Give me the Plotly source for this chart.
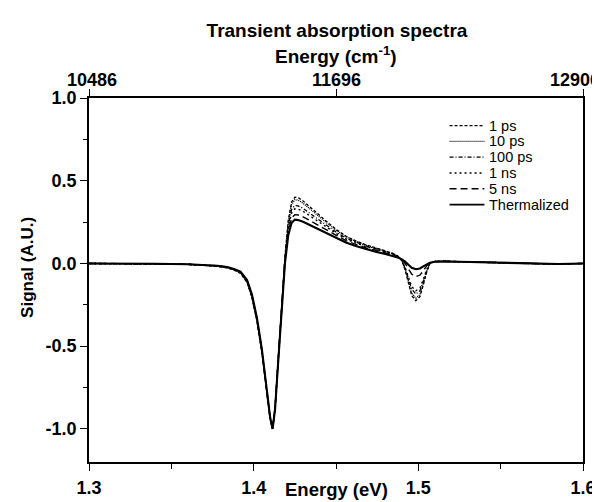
import plotly.graph_objects as go

# ---------------- data ----------------
energy_ev = [1.300, 1.320, 1.340, 1.360, 1.370, 1.378, 1.384, 1.388, 1.392, 1.396,
             1.399, 1.402, 1.405, 1.408, 1.410, 1.4115, 1.413, 1.415, 1.417, 1.419,
             1.421, 1.423, 1.425, 1.427, 1.430, 1.434, 1.438, 1.444, 1.450, 1.456,
             1.462, 1.468, 1.474, 1.480, 1.485, 1.488, 1.490, 1.492, 1.494, 1.496,
             1.4985, 1.501, 1.503, 1.505, 1.507, 1.510, 1.515, 1.525, 1.540, 1.555,
             1.570, 1.585, 1.600]

signal_1ps = [0.000, 0.000, -0.003, -0.006, -0.010, -0.017, -0.027, -0.040, -0.060, -0.115,
              -0.21, -0.35, -0.54, -0.78, -0.94, -1.00, -0.87, -0.56, -0.25, 0.04,
              0.26, 0.37, 0.40, 0.398, 0.378, 0.342, 0.307, 0.256, 0.207, 0.165,
              0.137, 0.113, 0.095, 0.077, 0.060, 0.042, 0.018, -0.040, -0.120, -0.195,
              -0.225, -0.200, -0.130, -0.055, 0.000, 0.012, 0.014, 0.011, 0.006, 0.002,
              -0.001, -0.004, 0.000]

signal_10ps = [0.000, 0.000, -0.003, -0.006, -0.010, -0.016, -0.026, -0.038, -0.057, -0.112,
               -0.205, -0.345, -0.535, -0.775, -0.94, -1.00, -0.87, -0.565, -0.255, 0.035,
               0.25, 0.355, 0.385, 0.383, 0.364, 0.330, 0.296, 0.248, 0.201, 0.161,
               0.134, 0.111, 0.093, 0.075, 0.058, 0.040, 0.017, -0.036, -0.110, -0.180,
               -0.210, -0.188, -0.122, -0.050, 0.000, 0.012, 0.014, 0.011, 0.006, 0.002,
               -0.001, -0.004, 0.000]

signal_100ps = [0.000, 0.000, -0.003, -0.005, -0.009, -0.015, -0.025, -0.036, -0.054, -0.108,
                -0.200, -0.34, -0.53, -0.77, -0.935, -1.00, -0.875, -0.57, -0.26, 0.03,
                0.225, 0.325, 0.350, 0.348, 0.333, 0.304, 0.275, 0.232, 0.190, 0.153,
                0.128, 0.106, 0.089, 0.072, 0.056, 0.039, 0.018, -0.030, -0.095, -0.155,
                -0.185, -0.165, -0.108, -0.044, 0.002, 0.012, 0.013, 0.011, 0.006, 0.002,
                -0.001, -0.003, 0.000]

signal_1ns = [0.000, 0.000, -0.003, -0.005, -0.009, -0.015, -0.024, -0.035, -0.052, -0.105,
              -0.197, -0.337, -0.527, -0.767, -0.933, -1.00, -0.876, -0.572, -0.265, 0.02,
              0.21, 0.305, 0.330, 0.328, 0.315, 0.288, 0.261, 0.221, 0.182, 0.147,
              0.123, 0.102, 0.086, 0.070, 0.054, 0.038, 0.018, -0.025, -0.085, -0.140,
              -0.165, -0.148, -0.097, -0.040, 0.003, 0.012, 0.013, 0.010, 0.006, 0.002,
              -0.001, -0.003, 0.000]

signal_5ns = [0.000, 0.000, -0.002, -0.005, -0.008, -0.014, -0.023, -0.034, -0.051, -0.102,
              -0.193, -0.333, -0.523, -0.763, -0.93, -1.00, -0.878, -0.575, -0.27, 0.01,
              0.19, 0.275, 0.295, 0.293, 0.282, 0.260, 0.238, 0.204, 0.169, 0.138,
              0.115, 0.095, 0.080, 0.065, 0.051, 0.037, 0.022, 0.000, -0.035, -0.065,
              -0.080, -0.070, -0.045, -0.015, 0.004, 0.011, 0.013, 0.010, 0.006, 0.002,
              -0.001, -0.003, 0.000]

signal_therm = [0.000, 0.000, -0.002, -0.005, -0.008, -0.014, -0.022, -0.033, -0.050, -0.100,
                -0.19, -0.33, -0.52, -0.76, -0.93, -1.00, -0.88, -0.58, -0.28, 0.00,
                0.17, 0.245, 0.265, 0.262, 0.252, 0.233, 0.213, 0.183, 0.153, 0.127,
                0.106, 0.087, 0.071, 0.057, 0.045, 0.034, 0.025, 0.012, -0.008, -0.026,
                -0.035, -0.030, -0.018, -0.005, 0.004, 0.010, 0.012, 0.010, 0.006, 0.002,
                -0.001, -0.003, 0.000]

series_names = ["1 ps", "10 ps", "100 ps", "1 ns", "5 ns", "Thermalized"]

x_tick_vals = [1.3, 1.4, 1.5, 1.6]
x_tick_text = ["1.3", "1.4", "1.5", "1.6"]
y_tick_vals = [-1.0, -0.5, 0.0, 0.5, 1.0]
y_tick_text = ["-1.0", "-0.5", "0.0", "0.5", "1.0"]
top_tick_cm = [10486, 11696, 12906]
top_tick_text = ["10486", "11696", "12906"]

# ---------------- figure ----------------
FONT = "Liberation Sans, Arial, Helvetica, sans-serif"
W, H = 600, 502
L, R, T, B = 81, 577, 90, 459          # plot-area pixel box
CM_PER_EV = 8065.54                    # unit conversion for the top axis
X_RANGE = [1.3, 1.6]


def px_x(px):
    return (px - L) / (R - L)


def px_y(py):
    return (B - py) / (B - T)


def ev_to_paper(ev):
    return (ev - X_RANGE[0]) / (X_RANGE[1] - X_RANGE[0])


series_values = [signal_1ps, signal_10ps, signal_100ps, signal_1ns, signal_5ns, signal_therm]
dashes = ["3px,2px", "1px,1px", "4px,2px,1px,2px", "2px,3px", "7px,4px", "solid"]
widths = [1.3, 1.3, 1.3, 1.4, 1.4, 2.1]

fig = go.Figure()
for name, vals, d, w in zip(series_names, series_values, dashes, widths):
    fig.add_trace(go.Scatter(x=energy_ev, y=vals, mode="lines", name=name,
                             showlegend=False,
                             line=dict(color="black", width=w, dash=d)))

top_tick_ev = [c / CM_PER_EV for c in top_tick_cm]
# invisible trace to carry the top (cm^-1) axis frame
fig.add_trace(go.Scatter(x=[energy_ev[0], energy_ev[-1]], y=[0, 0], xaxis="x2",
                         mode="lines", line=dict(width=0), opacity=0,
                         showlegend=False, hoverinfo="skip"))

tick_font = dict(family=FONT, size=18, color="black", weight="bold")
axis_common = dict(showline=True, linecolor="black", linewidth=1.5,
                   showgrid=False, zeroline=False, ticks="outside",
                   ticklen=7, tickwidth=1.3, tickcolor="black", tickfont=tick_font)

fig.update_layout(
    width=W, height=H,
    margin=dict(l=L, r=W - R, t=T, b=H - B),
    paper_bgcolor="white", plot_bgcolor="white",
    showlegend=False,
    title=dict(text="<b>Transient absorption spectra</b>", x=(L + R) / 2 / W,
               xanchor="center", y=1 - 22 / H, yanchor="middle", yref="container",
               font=dict(family=FONT, size=19, color="black")),
    xaxis=dict(range=X_RANGE, tickvals=x_tick_vals, ticktext=x_tick_text,
               ticklabelstandoff=2,
               minor=dict(dtick=0.05, ticks="outside", ticklen=5, tickcolor="black"),
               **axis_common),
    xaxis2=dict(range=X_RANGE, overlaying="x", side="top", anchor="y",
                tickvals=[min(max(v, X_RANGE[0]), X_RANGE[1]) for v in top_tick_ev],
                showticklabels=False, **axis_common),
    yaxis=dict(range=[-1.2, 1.0], tickvals=y_tick_vals, ticktext=y_tick_text,
               mirror=True,
               minor=dict(dtick=0.25, ticks="outside", ticklen=4, tickcolor="black"),
               **axis_common),
)

# top axis labels (cm^-1); the outer ones are nudged inward as in the picture
for txt, ev, shift in zip(top_tick_text, top_tick_ev, [3, 0, -8]):
    fig.add_annotation(text="<b>%s</b>" % txt, xref="paper", yref="paper",
                       x=ev_to_paper(ev), y=px_y(72), xshift=shift, showarrow=False,
                       xanchor="center", yanchor="middle", font=tick_font)

fig.add_annotation(text="<b>Energy (cm<sup>-1</sup>)</b>", xref="paper", yref="paper",
                   x=0.5, y=px_y(46), showarrow=False,
                   xanchor="center", yanchor="middle",
                   font=dict(family=FONT, size=19, color="black"))
fig.add_annotation(text="<b>Energy (eV)</b>", xref="paper", yref="paper",
                   x=0.5, y=px_y(487), showarrow=False,
                   xanchor="center", yanchor="middle",
                   font=dict(family=FONT, size=18.5, color="black"))
fig.add_annotation(text="<b>Signal (A.U.)</b>", xref="paper", yref="paper",
                   x=px_x(19), y=px_y(262), showarrow=False,
                   textangle=-90, xanchor="center", yanchor="middle",
                   font=dict(family=FONT, size=17, color="black"))

# legend drawn as a compact key (rows 16 px apart, as in the picture)
for i, (name, d, w) in enumerate(zip(series_names, dashes, widths)):
    yy = px_y(118 + 16 * i)
    fig.add_shape(type="line", xref="paper", yref="paper",
                  x0=px_x(443), x1=px_x(478), y0=yy, y1=yy,
                  line=dict(color="black", width=min(w, 1.8), dash=d))
    fig.add_annotation(text=name, xref="paper", yref="paper",
                       x=px_x(481), y=yy, showarrow=False,
                       xanchor="left", yanchor="middle",
                       font=dict(family=FONT, size=14.5, color="black"))

fig.write_html("out.html")
